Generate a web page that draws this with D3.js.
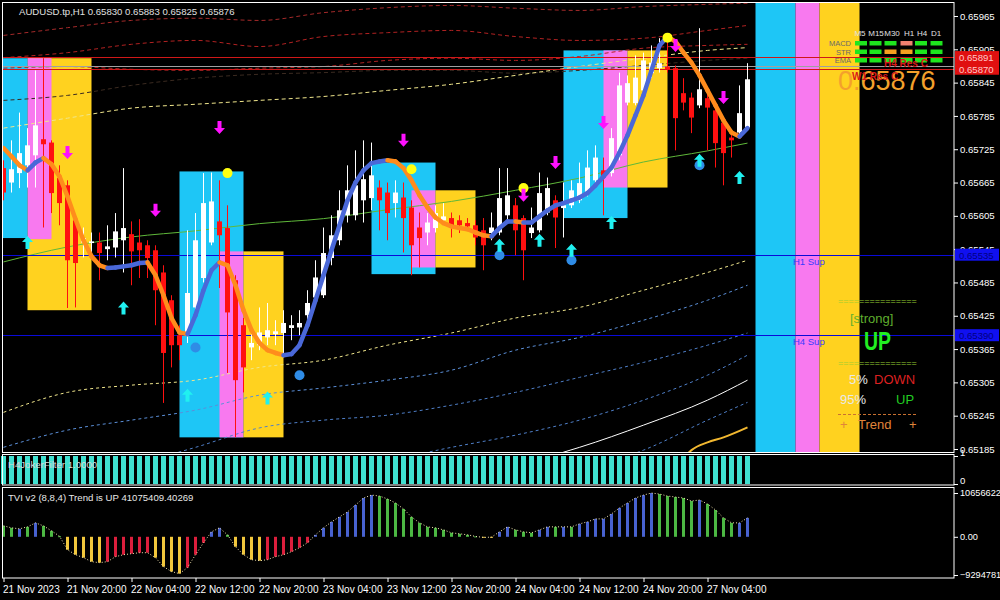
<!DOCTYPE html>
<html><head><meta charset="utf-8">
<script src="https://cdn.jsdelivr.net/npm/d3@7"></script>
<style>
body{margin:0;background:#000;}
svg{display:block;}
text{font-family:"Liberation Sans",Arial,sans-serif;}
</style>
</head><body><svg id="c" width="1000" height="600"></svg>
<script>
// ---------------- DATA ----------------
const headerText = "AUDUSD.tp,H1  0.65830 0.65883 0.65825 0.65876";
const timeTickBars = [0,8,16,24,32,40,48,56,64,72,80,88];
const timeLabels = ["21 Nov 2023","21 Nov 20:00","22 Nov 04:00","22 Nov 12:00","22 Nov 20:00","23 Nov 04:00","23 Nov 12:00","23 Nov 20:00","24 Nov 04:00","24 Nov 12:00","24 Nov 20:00","27 Nov 04:00"];
const priceTicks = [0.65185,0.65245,0.65305,0.65365,0.65425,0.65485,0.65545,0.65605,0.65665,0.65725,0.65785,0.65845,0.65905,0.65965];

const open  = [0.65691,0.65665,0.65682,0.65696,0.65714,0.65743,0.65737,0.65673,0.65660,0.65597,
0.65557,0.65556,0.65557,0.65545,0.65548,0.65561,0.65572,0.65557,0.65552,0.65543,
0.65503,0.65453,0.65390,0.65395,0.65440,0.65493,0.65557,0.65595,0.65583,0.65489,
0.65408,0.65368,0.65372,0.65386,0.65392,0.65394,0.65403,0.65404,0.65426,0.65458,
0.65462,0.65529,0.65561,0.65606,0.65606,0.65633,0.65637,0.65656,0.65647,0.65628,
0.65638,0.65620,0.65584,0.65575,0.65583,0.65597,0.65601,0.65597,0.65592,0.65588,
0.65579,0.65574,0.65575,0.65606,0.65624,0.65601,0.65574,0.65579,0.65611,0.65633,
0.65619,0.65624,0.65633,0.65646,0.65669,0.65687,0.65682,0.65714,0.65809,0.65808,
0.65831,0.65862,0.65871,0.65874,0.65871,0.65826,0.65818,0.65804,0.65817,0.65795,
0.65773,0.65746,0.65755,0.65764];
const high  = [0.65705,0.65741,0.65791,0.65763,0.65867,0.65889,0.65741,0.65696,0.65669,0.65606,
0.65584,0.65575,0.65575,0.65588,0.65610,0.65691,0.65595,0.65599,0.65561,0.65552,
0.65516,0.65462,0.65408,0.65579,0.65610,0.65682,0.65683,0.65669,0.65624,0.65498,
0.65421,0.65399,0.65440,0.65448,0.65417,0.65435,0.65426,0.65435,0.65471,0.65525,
0.65584,0.65606,0.65651,0.65696,0.65723,0.65741,0.65737,0.65669,0.65665,0.65669,
0.65665,0.65633,0.65611,0.65610,0.65624,0.65628,0.65611,0.65606,0.65601,0.65597,
0.65601,0.65611,0.65691,0.65691,0.65637,0.65606,0.65620,0.65683,0.65674,0.65642,
0.65665,0.65669,0.65701,0.65723,0.65732,0.65710,0.65763,0.65863,0.65858,0.65894,
0.65899,0.65912,0.65925,0.65930,0.65876,0.65853,0.65827,0.65943,0.65827,0.65804,
0.65781,0.65759,0.65840,0.65880];
const low   = [0.65633,0.65647,0.65655,0.65656,0.65656,0.65584,0.65610,0.65588,0.65439,0.65440,
0.65530,0.65534,0.65489,0.65525,0.65530,0.65503,0.65480,0.65493,0.65493,0.65408,
0.65268,0.65332,0.65345,0.65376,0.65431,0.65485,0.65552,0.65475,0.65322,0.65206,
0.65287,0.65345,0.65363,0.65372,0.65372,0.65350,0.65381,0.65390,0.65399,0.65444,
0.65457,0.65516,0.65552,0.65593,0.65597,0.65593,0.65615,0.65579,0.65561,0.65602,
0.65539,0.65498,0.65512,0.65552,0.65575,0.65588,0.65566,0.65574,0.65579,0.65552,
0.65507,0.65561,0.65570,0.65597,0.65534,0.65489,0.65565,0.65575,0.65606,0.65547,
0.65566,0.65619,0.65628,0.65640,0.65664,0.65606,0.65676,0.65705,0.65804,0.65804,
0.65827,0.65853,0.65863,0.65863,0.65723,0.65795,0.65754,0.65799,0.65723,0.65692,
0.65660,0.65710,0.65750,0.65759];
const close = [0.65647,0.65689,0.65718,0.65732,0.65768,0.65734,0.65646,0.65628,0.65525,0.65520,
0.65565,0.65559,0.65538,0.65550,0.65577,0.65583,0.65541,0.65543,0.65529,0.65471,
0.65358,0.65372,0.65372,0.65466,0.65561,0.65628,0.65631,0.65570,0.65431,0.65309,
0.65332,0.65376,0.65395,0.65399,0.65397,0.65412,0.65408,0.65412,0.65448,0.65494,
0.65538,0.65570,0.65615,0.65651,0.65660,0.65671,0.65678,0.65633,0.65610,0.65647,
0.65601,0.65552,0.65565,0.65593,0.65610,0.65604,0.65584,0.65588,0.65586,0.65566,
0.65552,0.65584,0.65637,0.65642,0.65579,0.65543,0.65584,0.65646,0.65655,0.65602,
0.65624,0.65651,0.65664,0.65692,0.65710,0.65674,0.65745,0.65840,0.65844,0.65854,
0.65885,0.65881,0.65880,0.65869,0.65781,0.65809,0.65782,0.65833,0.65800,0.65736,
0.65718,0.65741,0.65790,0.65851];

const smooth = [0.65727,0.65712,0.65696,0.65687,0.65701,0.65709,0.65698,0.65676,0.65640,0.65599,
0.65561,0.65532,0.65516,0.65511,0.65512,0.65514,0.65516,0.65520,0.65521,0.65498,
0.65462,0.65421,0.65395,0.65392,0.65426,0.65471,0.65507,0.65521,0.65516,0.65480,
0.65435,0.65399,0.65376,0.65363,0.65358,0.65354,0.65356,0.65372,0.65408,0.65453,
0.65498,0.65543,0.65588,0.65633,0.65665,0.65687,0.65700,0.65703,0.65705,0.65703,
0.65691,0.65669,0.65642,0.65620,0.65602,0.65592,0.65586,0.65583,0.65581,0.65575,
0.65570,0.65568,0.65583,0.65595,0.65595,0.65593,0.65593,0.65604,0.65615,0.65624,
0.65628,0.65633,0.65638,0.65646,0.65660,0.65676,0.65692,0.65719,0.65750,0.65786,
0.65822,0.65867,0.65912,0.65928,0.65919,0.65899,0.65881,0.65858,0.65831,0.65804,
0.65777,0.65755,0.65748,0.65763];

// envelope lines, read at sample bars
const envBars = [0,8,16,24,32,40,48,56,64,72,80,88,93];
const envRed1   = [0.65930,0.65944,0.65957,0.65961,0.65957,0.65971,0.65980,0.65984,0.65979,0.65975,0.65982,0.65986,0.65988];
const envRed2   = [0.65890,0.65899,0.65914,0.65921,0.65910,0.65928,0.65935,0.65939,0.65928,0.65921,0.65925,0.65939,0.65948];
const envRed3   = [0.65871,0.65874,0.65869,0.65867,0.65871,0.65874,0.65885,0.65889,0.65885,0.65892,0.65907,0.65912,0.65914];
const envDark   = [0.65813,0.65822,0.65840,0.65853,0.65860,0.65863,0.65867,0.65867,0.65862,0.65867,0.65876,0.65885,0.65889];
const envYellowUp = [0.65763,0.65781,0.65799,0.65806,0.65813,0.65820,0.65831,0.65842,0.65858,0.65874,0.65889,0.65903,0.65908];
const envYellowLo = [0.65251,0.65287,0.65300,0.65309,0.65332,0.65345,0.65372,0.65394,0.65421,0.65440,0.65471,0.65503,0.65525];
const envBlue1  = [0.65188,0.65219,0.65237,0.65255,0.65282,0.65295,0.65309,0.65327,0.65363,0.65386,0.65417,0.65453,0.65480];
const envBlue2  = [0.65102,0.65129,0.65156,0.65188,0.65223,0.65237,0.65246,0.65264,0.65287,0.65314,0.65341,0.65372,0.65394];
const envBlue3  = [0.65057,0.65084,0.65102,0.65120,0.65138,0.65151,0.65165,0.65188,0.65210,0.65237,0.65273,0.65318,0.65354];
const envWhite  = [0.64985,0.65012,0.65030,0.65048,0.65075,0.65093,0.65111,0.65133,0.65156,0.65188,0.65228,0.65273,0.65309];
const envBlue4  = [0.64949,0.64967,0.64985,0.65003,0.65021,0.65039,0.65057,0.65102,0.65120,0.65147,0.65183,0.65237,0.65269];
const maGreen   = [0.65522,0.65549,0.65567,0.65578,0.65591,0.65600,0.65616,0.65631,0.65651,0.65673,0.65702,0.65722,0.65736];
const goldBars  = [85,86,88,90,93];
const goldLine  = [0.65169,0.65183,0.65197,0.65206,0.65224];

// rectangles (zones)
const boxKind   = ["gold","pink","cyan","cyan","pink","gold","cyan","pink","gold","cyan","pink","gold","cyan","pink","gold"];
const boxFrom   = [3,3,-1,22,27,30,46,51,54,70,75,78,94,99,102];
const boxTo     = [11,6,3,30,30,35,54,54,59,78,78,83,99,102,107];
const boxTop    = [0.65889,0.65889,0.65889,0.65685,0.65541,0.65541,0.65701,0.65651,0.65651,0.65903,0.65903,0.65903,0.66000,0.66000,0.66000];
const boxBottom = [0.65435,0.65563,0.65565,0.65206,0.65206,0.65206,0.65500,0.65512,0.65512,0.65601,0.65656,0.65656,0.65130,0.65130,0.65130];

// arrows & dots
const upArrowBars = [3,15,23,33,62,67,71,76,87,92];
const upArrowPrice = [0.65557,0.65439,0.65282,0.65277,0.65552,0.65561,0.65543,0.65593,0.65705,0.65674];
const downArrowBars = [8,19,27,50,65,69,75,84,90];
const downArrowPrice = [0.65719,0.65615,0.65764,0.65741,0.65642,0.65701,0.65773,0.65912,0.65818];
const yellowDotBars = [28,51,65,83];
const yellowDotPrice = [0.65682,0.65689,0.65655,0.65926];
const blueDotBars = [24,37,62,71,87];
const blueDotPrice = [0.65368,0.65318,0.65534,0.65525,0.65696];

// levels
const supPrices = [0.65535,0.65390];
const supNames = ["H1 Sup","H4 Sup"];
const resPrices = [0.65891,0.65870];
const resNames = ["H4 Res C","W1 Res C"];
const bidPrice = 0.65876;

// signal dashboard
const tfNames = ["M5","M15","M30","H1","H4","D1"];
const rowNames = ["MACD","STR","EMA"];
const signalRows = [["g","g","g","s","g","g"],["g","g","o","o","g","g"],["g","g","g","g","g","g"]];

// sub panels
const jokerValues = [1,1,1,1,1,1,1,1,1,1,1,1,1,1,1,1,1,1,1,1,1,1,1,1,1,1,1,1,1,1,1,1,1,1,1,1,1,1,1,1,1,1,1,1,1,1,1,1,1,1,1,1,1,1,1,1,1,1,1,1,1,1,1,1,1,1,1,1,1,1,1,1,1,1,1,1,1,1,1,1,1,1,1,1,1,1,1,1,1,1,1,1,1,1];
const tvi = [26.6e6,21.8e6,19.4e6,24.2e6,33.9e6,26.6e6,14.5e6,1.5e6,-31.5e6,-43.6e6,
-50.8e6,-60.5e6,-62.9e6,-60.5e6,-48.4e6,-43.6e6,-41.1e6,-38.7e6,-38.7e6,-50.8e6,
-72.6e6,-84.7e6,-89.5e6,-75.0e6,-43.6e6,-14.5e6,12.1e6,21.8e6,4.8e6,-24.2e6,
-43.6e6,-55.7e6,-58.1e6,-55.7e6,-48.4e6,-43.6e6,-36.3e6,-26.6e6,-14.5e6,4.8e6,
21.8e6,36.3e6,48.4e6,60.5e6,77.4e6,94.4e6,101.6e6,99.2e6,92.0e6,82.3e6,
67.8e6,48.4e6,33.9e6,24.2e6,21.8e6,16.9e6,9.7e6,7.3e6,4.8e6,1.0e6,
-1.5e6,-0.8e6,12.1e6,24.2e6,16.9e6,12.1e6,9.7e6,16.9e6,24.2e6,24.2e6,
24.2e6,24.2e6,31.5e6,36.3e6,43.6e6,43.6e6,55.7e6,70.2e6,82.3e6,94.4e6,
101.6e6,106.5e6,104.1e6,99.2e6,96.8e6,94.4e6,87.1e6,89.5e6,79.9e6,65.3e6,
46.0e6,33.9e6,33.9e6,46.0e6];
const tviState = "GGBGBGGGYYYYYRRRRRRYYYYRRRBBGYYYYRRRRRRBBBBBBBBGGGGGGGGGGGGGYYBBGGGBBGBGBBBBBBBBBBGGGGGBGGGGBB".split("");
const tviTicks = [-92947812,0,106566223];
const tviLabel = "TVI v2 (8,8,4) Trend is UP 41075409.40269";
const jokerLabel = "H4JokerFilter 1.0000";

// ---------------- DRAW ----------------
const svg = d3.select("#c");
svg.append("rect").attr("width",1000).attr("height",600).attr("fill","#000");

const x = d3.scaleLinear().domain([0,93]).range([3.5,747.5]);
const y = d3.scaleLinear().domain([0.65185,0.65965]).range([449,16]);
const yJ = d3.scaleLinear().domain([0,1]).range([484,456]);
const yT = d3.scaleLinear().domain([-92947812,106566223]).range([575,493]);

const defs = svg.append("defs");
defs.append("clipPath").attr("id","mainClip").append("rect").attr("x",3).attr("y",3).attr("width",951).attr("height",449);
const main = svg.append("g").attr("clip-path","url(#mainClip)");

const boxColor = {cyan:"#1ec6f6",pink:"#f879ef",gold:"#ffd21f"};
main.append("g").selectAll("rect").data(boxKind).join("rect")
  .attr("x",(d,i)=>x(boxFrom[i])).attr("width",(d,i)=>x(boxTo[i])-x(boxFrom[i]))
  .attr("y",(d,i)=>y(boxTop[i])).attr("height",(d,i)=>y(boxBottom[i])-y(boxTop[i]))
  .attr("fill",d=>boxColor[d]);

function envLine(vals, bars, color, dash, w){
  const line = d3.line().x((d,i)=>x(bars[i])).y(d=>y(d)).curve(d3.curveMonotoneX);
  main.append("path").attr("d",line(vals)).attr("fill","none").attr("stroke",color)
    .attr("stroke-width",w||1).attr("stroke-dasharray",dash||null);
}
envLine(envRed1, envBars, "#a52a2a","4,3");
envLine(envRed2, envBars, "#b22222","4,3");
envLine(envRed3, envBars, "#b22222","4,3");
envLine(envDark, envBars, "#3a2a20","4,3");
envLine(envYellowUp, envBars, "#f0e68c","4,3");
envLine(maGreen, envBars, "#5fb83a",null);
envLine(envYellowLo, envBars, "#f0e68c","3,3");
envLine(envBlue1, envBars, "#5b8fd8","3,3");
envLine(envBlue2, envBars, "#4f7fc8","3,3");
envLine(envBlue3, envBars, "#4f7fc8","3,3");
envLine(envWhite, envBars, "#ffffff",null);
envLine(envBlue4, envBars, "#4f7fc8","3,3");
envLine(goldLine, goldBars, "#f2b830",null,2);

// horizontal levels
main.append("g").selectAll("line").data(supPrices).join("line")
  .attr("x1",3).attr("x2",954).attr("y1",d=>Math.round(y(d))+0.5).attr("y2",d=>Math.round(y(d))+0.5)
  .attr("stroke","#0a0ad8").attr("stroke-width",1.2);
main.append("g").selectAll("line").data(resPrices).join("line")
  .attr("x1",3).attr("x2",954).attr("y1",d=>Math.round(y(d))+0.5).attr("y2",d=>Math.round(y(d))+0.5)
  .attr("stroke","#d01818").attr("stroke-width",1);
main.append("line").attr("x1",3).attr("x2",954).attr("y1",Math.round(y(bidPrice))+1.5).attr("y2",Math.round(y(bidPrice))+1.5)
  .attr("stroke","#a0a0a0").attr("stroke-width",1);

// candles
const idx = d3.range(open.length);
const cg = main.append("g");
cg.selectAll("line").data(idx).join("line")
  .attr("x1",i=>Math.floor(x(i))+0.5).attr("x2",i=>Math.floor(x(i))+0.5)
  .attr("y1",i=>y(high[i])).attr("y2",i=>y(low[i]))
  .attr("stroke",i=>close[i]>=open[i]?"#ffffff":"#ff1010").attr("stroke-width",1);
cg.selectAll("rect").data(idx).join("rect")
  .attr("x",i=>Math.floor(x(i))-2).attr("width",5)
  .attr("y",i=>y(Math.max(open[i],close[i])))
  .attr("height",i=>Math.max(1.5,Math.abs(y(open[i])-y(close[i]))))
  .attr("fill",i=>close[i]>=open[i]?"#ffffff":"#ff1010");

// smoothed trend line
const sg = main.append("g");
for(let i=0;i<smooth.length-1;i++){
  sg.append("line").attr("x1",x(i)).attr("y1",y(smooth[i])).attr("x2",x(i+1)).attr("y2",y(smooth[i+1]))
    .attr("stroke",smooth[i+1]>=smooth[i]?"#4a68d8":"#ff8c1c").attr("stroke-width",4.5).attr("stroke-linecap","round");
}

// dots
main.append("g").selectAll("circle").data(yellowDotBars).join("circle")
  .attr("cx",d=>x(d)).attr("cy",(d,i)=>y(yellowDotPrice[i])).attr("r",5).attr("fill","#ffff10");
main.append("g").selectAll("circle").data(blueDotBars).join("circle")
  .attr("cx",d=>x(d)).attr("cy",(d,i)=>y(blueDotPrice[i])).attr("r",5).attr("fill","#2f8ce6");

// arrows
const arrowPath = "M0,-6.5 L5.5,-0.5 L2,-0.5 L2,6.5 L-2,6.5 L-2,-0.5 L-5.5,-0.5 Z";
main.append("g").selectAll("path").data(upArrowBars).join("path")
  .attr("d",arrowPath).attr("fill","#20f0f0")
  .attr("transform",(d,i)=>`translate(${x(d)},${y(upArrowPrice[i])})`);
main.append("g").selectAll("path").data(downArrowBars).join("path")
  .attr("d",arrowPath).attr("fill","#ff10ff")
  .attr("transform",(d,i)=>`translate(${x(d)},${y(downArrowPrice[i])}) rotate(180)`);

// level labels (support)
main.append("g").selectAll("text").data(supNames).join("text")
  .attr("x",793).attr("y",(d,i)=>y(supPrices[i])+10).text(d=>d)
  .attr("fill","#3838ff").attr("font-size",9.5).attr("font-family","DejaVu Sans");

// signal dashboard
const colX = [855,869.5,884.5,900.5,915,930.5];
const colMid = [860,876,892,909,922,936];
main.append("g").selectAll("text").data(tfNames).join("text")
  .attr("x",(d,i)=>colMid[i]).attr("y",36).attr("text-anchor","middle").text(d=>d).attr("fill","#e0e0e0").attr("font-size",8);
main.append("g").selectAll("text").data(rowNames).join("text")
  .attr("x",851).attr("y",(d,i)=>46+i*8.5).attr("text-anchor","end").text(d=>d).attr("fill","#6a6a6a").attr("font-size",7.5);
const sigColor = {g:"#1ee61e",s:"#f08070",o:"#f5a020"};
signalRows.forEach((row,r)=>{
  main.append("g").selectAll("rect").data(row).join("rect")
    .attr("x",(d,i)=>colX[i]).attr("y",41+r*8.5).attr("width",12).attr("height",4.5)
    .attr("fill",d=>sigColor[d]);
});
main.append("text").attr("x",838).attr("y",90).text("0.65876").attr("fill","#f4a02c").attr("font-size",27);
// resistance labels drawn over the big price
main.append("text").attr("x",884).attr("y",y(resPrices[0])+10).text(resNames[0])
  .attr("fill","#d81818").attr("font-size",10).attr("font-weight","bold");
main.append("text").attr("x",852).attr("y",y(resPrices[1])+11).text(resNames[1])
  .attr("fill","#d81818").attr("font-size",10).attr("font-weight","bold");

const eq = "===============";
main.append("text").attr("x",838).attr("y",304).text(eq).attr("fill","#9acd32").attr("font-size",9);
main.append("text").attr("x",850).attr("y",323).text("[strong]").attr("fill","#5fae2e").attr("font-size",13);
main.append("text").attr("x",864).attr("y",350).text("UP").attr("fill","#22ee22").attr("font-size",26).attr("font-weight","bold")
  .attr("textLength",27).attr("lengthAdjust","spacingAndGlyphs");
main.append("text").attr("x",838).attr("y",366).text(eq).attr("fill","#9acd32").attr("font-size",9);
main.append("text").attr("x",849).attr("y",384).text("5%").attr("fill","#e8e8e8").attr("font-size",13);
main.append("text").attr("x",874).attr("y",384).text("DOWN").attr("fill","#dd2020").attr("font-size",13);
main.append("text").attr("x",840).attr("y",404).text("95%").attr("fill","#e8e8e8").attr("font-size",13);
main.append("text").attr("x",896).attr("y",404).text("UP").attr("fill","#22cc22").attr("font-size",13);
main.append("line").attr("x1",838).attr("x2",916).attr("y1",414.5).attr("y2",414.5).attr("stroke","#c87030").attr("stroke-dasharray","3,2");
main.append("text").attr("x",840).attr("y",429).text("+").attr("fill","#e0853a").attr("font-size",13);
main.append("text").attr("x",858).attr("y",429).text("Trend").attr("fill","#e0853a").attr("font-size",13);
main.append("text").attr("x",909).attr("y",429).text("+").attr("fill","#e0853a").attr("font-size",13);

// header
svg.append("text").attr("x",19).attr("y",15).text(headerText).attr("fill","#e0e0e0").attr("font-size",9.6);

// ---- price axis ----
const pa = svg.append("g").attr("transform","translate(954,0)")
  .call(d3.axisRight(y).tickValues(priceTicks).tickFormat(d3.format(".5f")).tickSize(4).tickPadding(2));
pa.select(".domain").remove();
pa.selectAll("line").attr("stroke","#fff");
pa.selectAll("text").attr("fill","#fff").attr("font-size",9.6).attr("font-family","Liberation Sans");

// price tags
function tag(p, bg, fg){
  const yy = y(p);
  svg.append("rect").attr("x",955).attr("y",yy-6).attr("width",44).attr("height",12).attr("fill",bg);
  svg.append("text").attr("x",959).attr("y",yy+4).text(d3.format(".5f")(p)).attr("fill",fg).attr("font-size",9.6);
}
tag(resPrices[0],"#e01010","#ffc8c8");
tag(resPrices[1],"#e01010","#ffc8c8");
tag(supPrices[0],"#1010f0","#000080");
tag(supPrices[1],"#1010f0","#000080");

// ---- joker panel ----
svg.append("g").selectAll("rect").data(jokerValues).join("rect")
  .attr("x",(d,i)=>Math.floor(x(i))-2).attr("width",5)
  .attr("y",d=>yJ(d)).attr("height",d=>yJ(0)-yJ(d)).attr("fill","#40e0d0");
svg.append("text").attr("x",8).attr("y",468).text(jokerLabel).attr("fill","#d8d8d8").attr("font-size",9.6);
const ja = svg.append("g").attr("transform","translate(954,0)")
  .call(d3.axisRight(yJ).tickValues([0,1]).tickFormat(d3.format("d")).tickSize(4).tickPadding(2));
ja.select(".domain").remove();
ja.selectAll("line").attr("stroke","#fff");
ja.selectAll("text").attr("fill","#fff").attr("font-size",9.6).attr("dy","-0.1em");

// ---- TVI panel ----
const tviColor = {G:"#4cb843",B:"#4862d0",Y:"#f2c73c",R:"#dc1e3c"};
svg.append("g").selectAll("rect").data(tvi).join("rect")
  .attr("x",(d,i)=>Math.floor(x(i))-1).attr("width",3)
  .attr("y",d=>d>=0?yT(d):yT(0)).attr("height",d=>Math.max(1,Math.abs(yT(d)-yT(0))))
  .attr("fill",(d,i)=>tviColor[tviState[i]]);
svg.append("path").attr("d",d3.line().x((d,i)=>x(i)).y(d=>yT(d))(tvi))
  .attr("fill","none").attr("stroke","#f5e6b0").attr("stroke-width",1).attr("stroke-dasharray","1,2");
svg.append("text").attr("x",8).attr("y",501).text(tviLabel).attr("fill","#e8e8e8").attr("font-size",9.6);
const ta = svg.append("g").attr("transform","translate(954,0)")
  .call(d3.axisRight(yT).tickValues(tviTicks).tickFormat(d=>d===0?"0.00":d3.format("d")(d)).tickSize(4).tickPadding(2));
ta.select(".domain").remove();
ta.selectAll("line").attr("stroke","#fff");
ta.selectAll("text").attr("fill","#fff").attr("font-size",9.2);

// ---- time axis ----
const xa = svg.append("g").attr("transform","translate(0,578)")
  .call(d3.axisBottom(x).tickValues(timeTickBars).tickFormat((d,i)=>timeLabels[i]).tickSize(4).tickPadding(4));
xa.select(".domain").remove();
xa.selectAll("line").attr("stroke","#fff");
xa.selectAll("text").attr("fill","#fff").attr("font-size",10).attr("text-anchor","start").attr("x",-1);

// panel borders
[[2.5,2.5,951.5,450],[2.5,454.5,951.5,30.5],[2.5,487.5,951.5,90.5]].forEach(r=>{
  svg.append("rect").attr("x",r[0]).attr("y",r[1]).attr("width",r[2]).attr("height",r[3])
    .attr("fill","none").attr("stroke","#fff").attr("stroke-width",1);
});
</script>
</body></html>
